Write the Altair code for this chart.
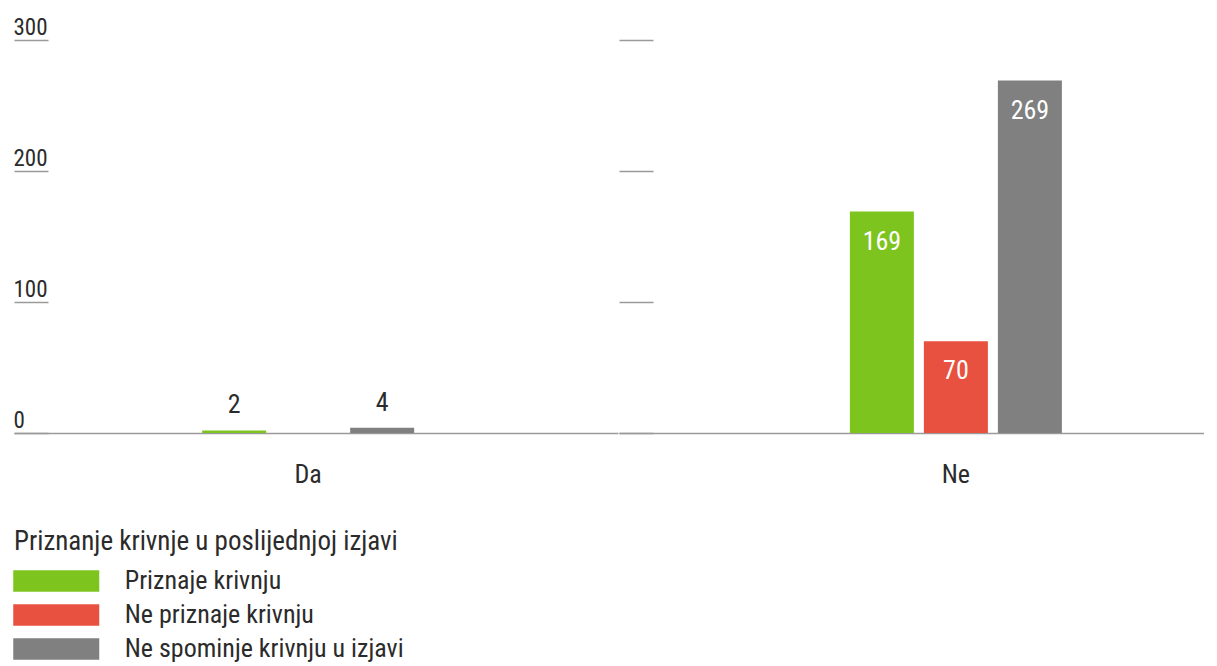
import altair as alt
import pandas as pd

groups = ["Da", "Ne"]
series = ["Priznaje krivnju", "Ne priznaje krivnju", "Ne spominje krivnju u izjavi"]
da_values = [2, 0, 4]
ne_values = [169, 70, 269]
colors = ["#7ec41f", "#e8513f", "#808080"]
y_ticks = [0, 100, 200, 300]
legend_title = "Priznanje krivnje u poslijednjoj izjavi"

rows = []
for g, vals in zip(groups, [da_values, ne_values]):
    for s, v in zip(series, vals):
        rows.append({"group": g, "series": s, "value": v})
df = pd.DataFrame(rows)

FONT = "Liberation Sans Narrow, Roboto Condensed, Liberation Sans, sans-serif"
TXT = "#2b2b2b"
LINE = "#9a9a9a"


def panel(g, width, pad_outer, align, show_labels, inside):
    base = (
        alt.Chart(df)
        .transform_filter(alt.datum.group == g)
        .transform_filter(alt.datum.value > 0)
    )
    x = alt.X(
        "group:N",
        title=None,
        scale=alt.Scale(paddingInner=0, paddingOuter=pad_outer, align=align),
        axis=alt.Axis(
            labelAngle=0, ticks=False, domain=True, domainColor=LINE,
            domainWidth=1.5, labelFontSize=26, labelPadding=49,
            labelBaseline="alphabetic",
            labelColor=TXT, labelFont=FONT,
        ),
    )
    xo = alt.XOffset(
        "series:N",
        sort=series,
        scale=alt.Scale(domain=series, paddingInner=0.135, paddingOuter=0),
    )
    y = alt.Y(
        "value:Q",
        title=None,
        scale=alt.Scale(domain=[0, 300], nice=False),
        axis=alt.Axis(
            values=y_ticks, domain=False, grid=False, orient="left",
            offset=-34, tickSize=34, tickColor=LINE, tickWidth=1.5,
            labels=show_labels, labelAlign="left", labelBaseline="alphabetic",
            labelPadding=1, labelOffset=-6, labelFontSize=23,
            labelColor=TXT, labelFont=FONT,
        ),
    )
    color = alt.Color(
        "series:N",
        sort=series,
        scale=alt.Scale(domain=series, range=colors),
        legend=alt.Legend(
            title=legend_title, orient="none", legendX=0, legendY=489,
            direction="vertical", titleFontSize=27, titleFontWeight="normal",
            titleColor=TXT, titleFont=FONT, titlePadding=12, titleLimit=1000,
            labelFontSize=26, labelColor=TXT, labelFont=FONT, labelLimit=1000,
            symbolType="M-4,-1L4,-1L4,1L-4,1Z",
            symbolSize=462.25, symbolStrokeWidth=0, symbolOpacity=1,
            symbolOffset=29.25, rowPadding=8, labelOffset=55.5,
        ),
    )
    bars = base.mark_bar().encode(x=x, xOffset=xo, y=y, color=color)
    if inside:
        txt = base.mark_text(
            baseline="alphabetic", dy=38, fontSize=26, color="white", font=FONT
        )
    else:
        txt = base.mark_text(
            baseline="alphabetic", dy=-17, fontSize=26, color=TXT, font=FONT
        )
    labels = txt.encode(x=x, xOffset=xo, y=y, text="value:Q")
    return alt.layer(bars, labels).properties(width=width, height=393)


p1 = panel("Da", 604, 0.9245, 0.48, True, False)
p2 = panel("Ne", 585, 0.8797, 0.619, False, True)

chart = (
    alt.hconcat(p1, p2, spacing=0)
    .properties(padding={"left": 5, "top": 8, "right": 0, "bottom": 0})
    .configure_view(stroke=None)
)

chart.save("out.html", embed_options={"renderer": "svg", "actions": False})
